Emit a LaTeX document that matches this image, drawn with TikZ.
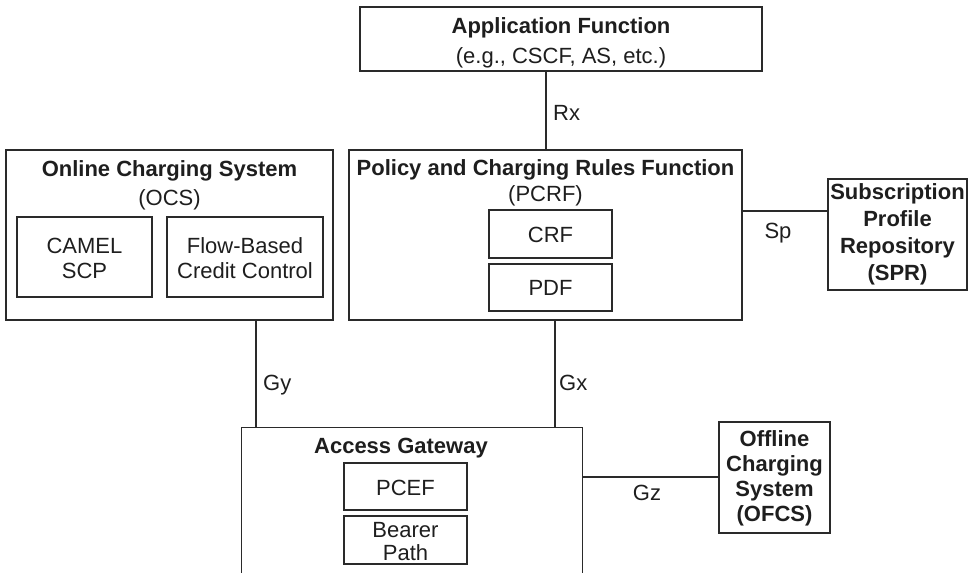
\documentclass[tikz,border=0pt]{standalone}
\usepackage{fontspec}
\setmainfont{Liberation Sans}
\definecolor{linec}{HTML}{2A2A2A}
\definecolor{textc}{HTML}{1E1E1E}
\begin{document}
\begin{tikzpicture}[x=1pt,y=-1pt,
  box/.style={draw=linec, line width=1.3pt, inner sep=0pt, fill=none},
  conn/.style={draw=linec, line width=2pt},
  txt/.style={text=textc, inner sep=0pt, anchor=base, font=\fontsize{22}{26}\selectfont},
  btxt/.style={txt, font=\fontsize{22}{26}\selectfont\bfseries},
  lbl/.style={txt, anchor=base west}]
\useasboundingbox (0,0) rectangle (970,573);

% boxes
\node[box, minimum width=402pt, minimum height=64pt] (af) at (561,39) {};
\node[box, minimum width=327pt, minimum height=170pt] (ocs) at (169.5,235) {};
\node[box, minimum width=135pt, minimum height=80pt] (camel) at (84.5,257) {};
\node[box, minimum width=156pt, minimum height=80pt] (flow) at (245,257) {};
\node[box, minimum width=393pt, minimum height=170pt] (pcrf) at (545.5,235) {};
\node[box, minimum width=123pt, minimum height=48pt] (crf) at (550.5,234) {};
\node[box, minimum width=123pt, minimum height=47pt] (pdf) at (550.5,287.5) {};
\node[box, minimum width=139pt, minimum height=111pt] (spr) at (897.5,234.5) {};
\node[inner sep=0pt, minimum width=340pt, minimum height=145pt] (ag) at (412,500.5) {};
\draw[draw=linec, line width=1.3pt] (ag.south west) -- (ag.north west) -- (ag.north east) -- (ag.south east);
\node[box, minimum width=123pt, minimum height=47pt] (pcef) at (405.5,486.5) {};
\node[box, minimum width=123pt, minimum height=48pt] (bearer) at (405.5,540) {};
\node[box, minimum width=111pt, minimum height=111pt] (ofcs) at (774.5,477.5) {};

% texts
\node[btxt] (aft) at (561,33) {Application Function};
\node[txt] (afs) at (561,63) {(e.g., CSCF, AS, etc.)};
\node[btxt] (ocst) at (169.5,176) {Online Charging System};
\node[txt] (ocss) at (169.5,205) {(OCS)};
\node[txt] (camel1) at (84.5,253) {CAMEL};
\node[txt] (camel2) at (84.5,278) {SCP};
\node[txt] (flow1) at (245,253) {Flow-Based};
\node[txt] (flow2) at (245,278) {Credit Control};
\node[btxt] (pcrft) at (545.5,175) {Policy and Charging Rules Function};
\node[txt] (pcrfs) at (545.5,201) {(PCRF)};
\node[txt] (crfl) at (550.5,242) {CRF};
\node[txt] (pdfl) at (550.5,295) {PDF};
\node[btxt] (spr1) at (897.5,199) {Subscription};
\node[btxt] (spr2) at (897.5,226) {Profile};
\node[btxt] (spr3) at (897.5,253) {Repository};
\node[btxt] (spr4) at (897.5,280) {(SPR)};
\node[btxt] (agt) at (401,453) {Access Gateway};
\node[txt] (pcefl) at (405.5,495) {PCEF};
\node[txt] (bearer1) at (405.5,537) {Bearer};
\node[txt] (bearer2) at (405.5,560) {Path};
\node[btxt] (ofcs1) at (774.5,446) {Offline};
\node[btxt] (ofcs2) at (774.5,471) {Charging};
\node[btxt] (ofcs3) at (774.5,496) {System};
\node[btxt] (ofcs4) at (774.5,521) {(OFCS)};

% connectors
\coordinate (gyx) at (256,0);
\coordinate (gxx) at (555,0);
\coordinate (spy) at (0,211);
\coordinate (gzy) at (0,477);
\draw[conn] (pcrf.north) -- (pcrf.north |- af.south);
\draw[conn] (ocs.south -| gyx) -- (ag.north -| gyx);
\draw[conn] (pcrf.south -| gxx) -- (ag.north -| gxx);
\draw[conn] (pcrf.east |- spy) -- (spr.west |- spy);
\draw[conn] (ag.east |- gzy) -- (ofcs.west |- gzy);

% connector labels
\node[lbl] (rx) at (553,120) {Rx};
\node[txt] (sp) at (778,238) {Sp};
\node[lbl] (gy) at (263,390) {Gy};
\node[lbl] (gx) at (559,390) {Gx};
\node[txt] (gz) at (647,500) {Gz};
\end{tikzpicture}
\end{document}
